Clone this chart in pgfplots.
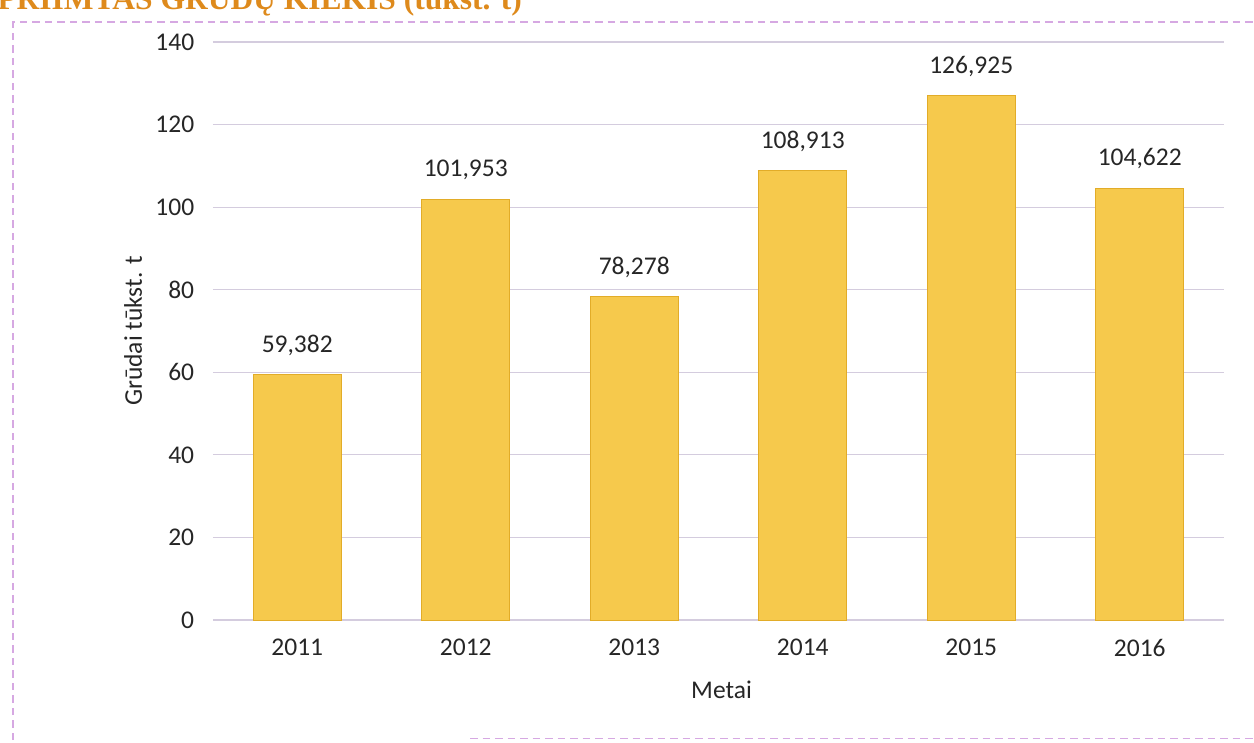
\documentclass[border=0pt]{standalone}
\usepackage{fontspec}
\setmainfont{Carlito}
\newfontfamily\titlefont{Liberation Serif}
\usepackage{pgfplots}
\pgfplotsset{compat=1.18}
\definecolor{bargold}{RGB}{246,201,76}
\definecolor{baredge}{RGB}{226,172,40}
\definecolor{gridc}{RGB}{212,204,222}
\definecolor{framec}{RGB}{214,168,226}
\definecolor{titlec}{RGB}{222,138,28}

\pgfplotstableread{
x y label
0 59.382 59,382
1 101.953 101,953
2 78.278 78,278
3 108.913 108,913
4 126.925 126,925
5 104.622 104,622
}\grainsdata

\begin{document}
\begin{tikzpicture}
% page is 1254 x 743 px at 0.4pt per px
\path[use as bounding box] (0,0) rectangle (501.6pt,-297.2pt);
% frame of the scanned chart
\draw[framec, densely dashed, line width=0.5pt] (5.2pt,-296pt) -- (5.2pt,-8.8pt) -- (501.6pt,-8.8pt);
\draw[framec, densely dashed, line width=0.5pt] (188pt,-295.4pt) -- (501.6pt,-295.4pt);
% title, cut at the top as in the scan
\node[anchor=base west, inner sep=0pt, text=titlec, font=\titlefont\bfseries\fontsize{12.6}{14}\selectfont]
  at (-1.2pt,-3.6pt) {PRIIMTAS GRŪDŲ KIEKIS (tūkst. t)};
\begin{axis}[
    at={(85.2pt,-248pt)}, anchor=south west,
    scale only axis,
    width=404.4pt, height=231.2pt,
    xmin=-0.5, xmax=5.5,
    ymin=0, ymax=140,
    ytick={0,20,...,140},
    xtick={0,...,5},
    xticklabels={2011,2012,2013,2014,2015,2016},
    ymajorgrids=true,
    grid style={gridc, line width=0.5pt},
    axis line style={draw=none},
    tick style={draw=none},
    ticklabel style={font=\fontsize{10.2}{12}\selectfont, text=black!85},
    /pgf/number format/assume math mode=true,
    yticklabel style={xshift=-4pt},
    xticklabel style={yshift=-4pt},
    xlabel={Metai},
    ylabel={Grūdai tūkst. t},
    label style={font=\fontsize{10.2}{12}\selectfont, text=black!85},
    xlabel style={at={(axis description cs:0.503,-0.121)}, anchor=center},
    ylabel style={at={(axis description cs:-0.079,0.5)}, anchor=center},
    nodes near coords,
    point meta=explicit symbolic,
    every node near coord/.append style={font=\fontsize{10.2}{12}\selectfont, text=black!85, yshift=4pt},
]
\addplot[ybar, bar width=35.2pt, fill=bargold, draw=baredge, line width=0.4pt]
  table[x=x, y=y, meta=label] {\grainsdata};
\end{axis}
\end{tikzpicture}
\end{document}
